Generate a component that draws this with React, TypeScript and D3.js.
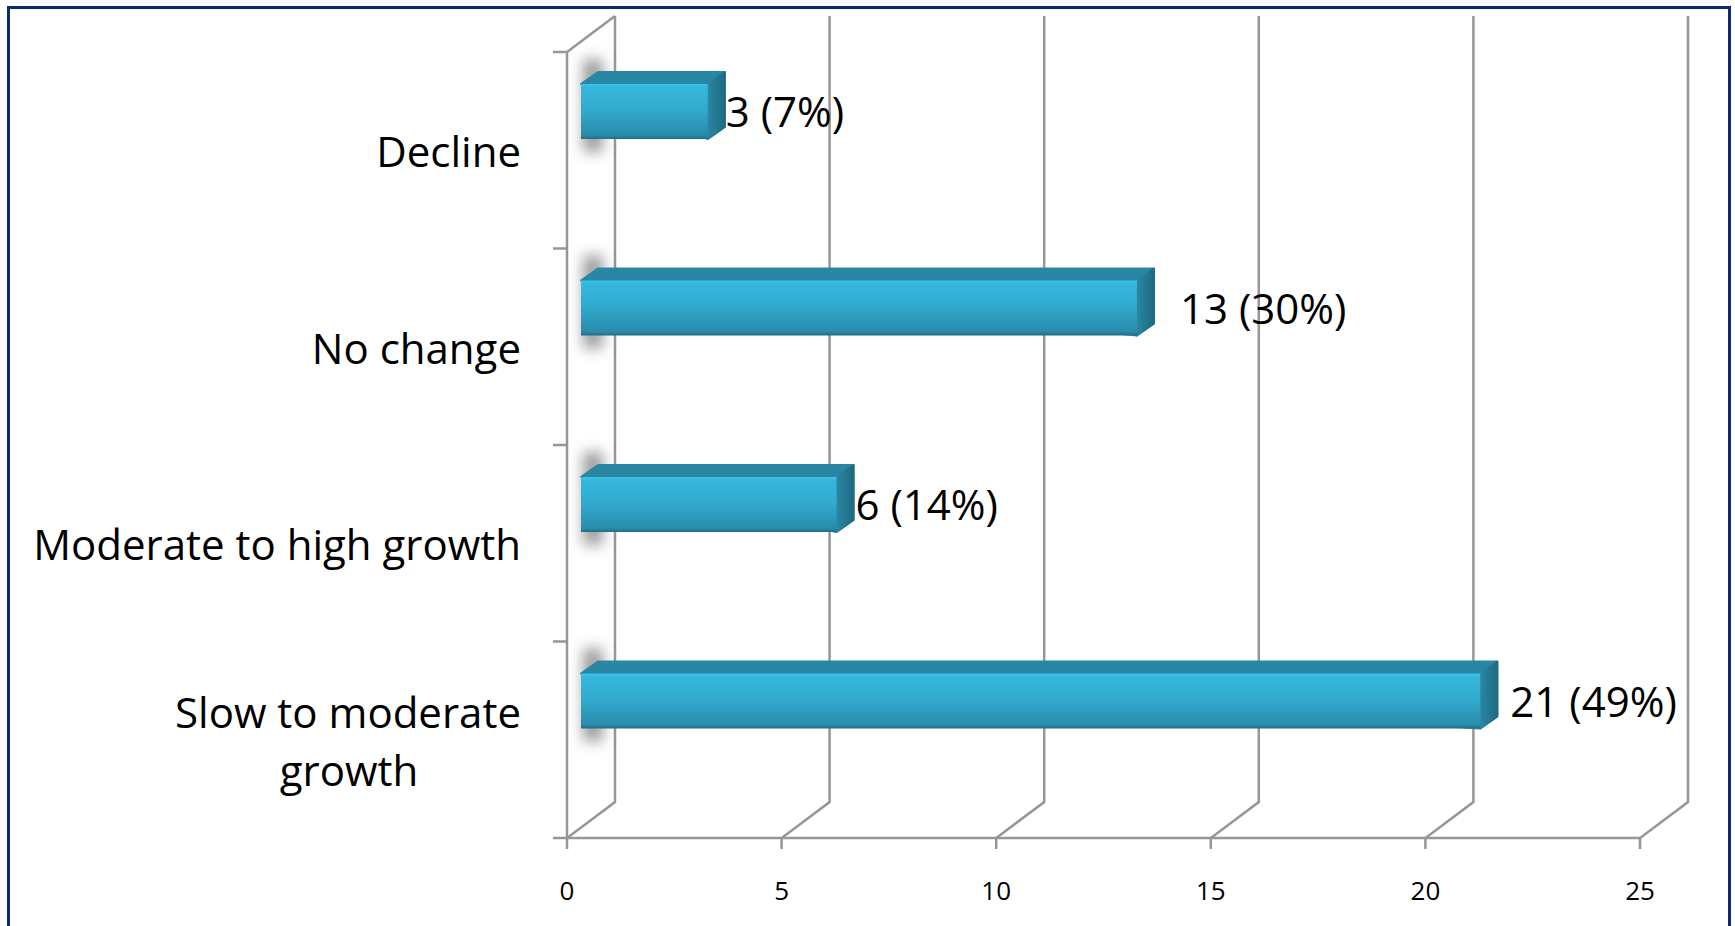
import React from "react";
import * as d3 from "d3";

const categories = ["Decline", "No change", "Moderate to high growth", "Slow to moderate growth"];
const categoryLines = [["Decline"], ["No change"], ["Moderate to high growth"], ["Slow to moderate", "growth"]];
const values = [3, 13, 6, 21];
const barLabels = ["3 (7%)", "13 (30%)", "6 (14%)", "21 (49%)"];
const xTicks = [0, 5, 10, 15, 20, 25];

const W = 1735, H = 926;
const FONT = "'Open Sans', 'Noto Sans', sans-serif";
const GRID = "#969696";
const x = d3.scaleLinear().domain([0, 25]).range([567, 1640]);
const y = d3.scaleBand<string>().domain(categories).range([52, 838]);
const DX = 48, DY = 36;
const BX = 17, BY = 12;
const BAR_H = 55;
const labelDx = [1, 26, 2, 13];

export default function App() {
  const [yTop, yBottom] = y.range();
  return (
    <svg width={W} height={H} style={{ position: "absolute", left: 0, top: 0, background: "#fff" }}>
      <defs>
        <linearGradient id="front" x1="0" y1="0" x2="0" y2="1">
          <stop offset="0" stopColor="#3ac3ea" />
          <stop offset="0.07" stopColor="#35b6db" />
          <stop offset="0.45" stopColor="#31abcf" />
          <stop offset="0.93" stopColor="#2a8cab" />
          <stop offset="1" stopColor="#1f6d86" />
        </linearGradient>
        <linearGradient id="side" x1="0" y1="0" x2="1" y2="0">
          <stop offset="0" stopColor="#2a87a3" />
          <stop offset="1" stopColor="#1f6a80" />
        </linearGradient>
        <filter id="blur" x="-100%" y="-40%" width="300%" height="180%">
          <feGaussianBlur stdDeviation="7" />
        </filter>
      </defs>
      <rect x={8.5} y={7.5} width={1721} height={H + 20} fill="#fff" stroke="#0d2a6e" strokeWidth={3} />

      {/* walls */}
      <g fill="none" stroke={GRID} strokeWidth={2.5}>
        <path d={`M${x(0)},${yTop}L${x(0) + DX},${yTop - DY}`} />
        <path d={`M${x(0)},${yTop}V${yBottom}`} />
        {xTicks.map((t) => (
          <path key={t} d={`M${x(t)},${yBottom + 11}V${yBottom}L${x(t) + DX},${yBottom - DY}V${yTop - DY}`} />
        ))}
        <path d={`M${x(0) - 14},${yBottom}H${x(25)}`} />
        {categories.map((c) => (
          <path key={c} d={`M${x(0) - 14},${y(c)}H${x(0)}`} />
        ))}
      </g>

      {/* bars */}
      {categories.map((c, i) => {
        const top = (y(c) as number) + 32;
        const x0 = x(0) + 14;
        const x1 = x0 + x(values[i]) - x(0) - 2;
        return (
          <g key={c}>
            <rect x={x0 + 2} y={top - 25} width={20} height={BAR_H + 38} fill="#5a5a5a" opacity={0.6} filter="url(#blur)" />
            <path d={`M${x0},${top}L${x0 + BX},${top - BY}H${x1 + BX}V${top + BAR_H - BY}L${x1},${top + BAR_H}Z`} fill="#2a87a3" stroke="#2a87a3" strokeLinejoin="round" strokeWidth={2} />
            <path d={`M${x1},${top}L${x1 + BX},${top - BY}V${top + BAR_H - BY}L${x1},${top + BAR_H}Z`} fill="url(#side)" stroke="url(#side)" strokeLinejoin="round" strokeWidth={2} />
            <rect x={x0} y={top} width={x1 - x0} height={BAR_H} fill="url(#front)" />
            <text x={x1 + BX + labelDx[i]} y={top + 43} fontFamily={FONT} fontSize={42} fill="#000">{barLabels[i]}</text>
          </g>
        );
      })}

      {/* category labels */}
      {categories.map((c, i) => {
        const lines = categoryLines[i];
        const cy = (y(c) as number) + y.bandwidth() / 2 + 2;
        return lines.map((l, k) => (
          <text key={l} x={lines.length > 1 && k === 1 ? 349 : 521} y={cy + 15 + (k - (lines.length - 1) / 2) * 58} textAnchor={lines.length > 1 && k === 1 ? "middle" : "end"} fontFamily={FONT} fontSize={42} fill="#000">{l}</text>
        ));
      })}

      {/* x tick labels */}
      {xTicks.map((t) => (
        <text key={t} x={x(t)} y={900} textAnchor="middle" fontFamily={FONT} fontSize={26} fill="#000">{t}</text>
      ))}
    </svg>
  );
}
